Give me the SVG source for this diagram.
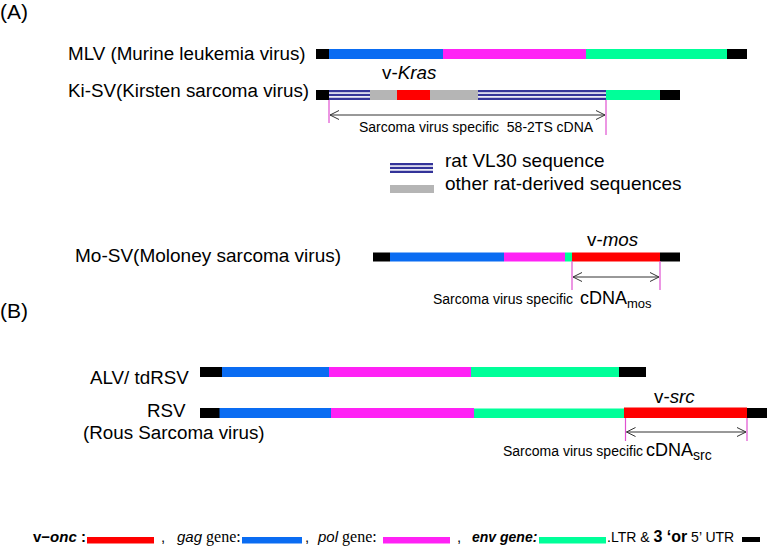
<svg xmlns="http://www.w3.org/2000/svg" width="767" height="546" viewBox="0 0 767 546">
<style>
text{font-family:"Liberation Sans",Arial,sans-serif;fill:#000}
.lbl{font-size:18.8px}
.sm{font-size:14px}
.big{font-size:18px}
.blk{fill:#000}
.gag{fill:#0a6cf2}
.pol{fill:#ff22f5}
.env{fill:#00ff99}
.onc{fill:#ff0000}
.rat{fill:#b5b5b5}
.vl{fill:#333399}
.pink{stroke:#e050d0;stroke-width:1.2;fill:none}
.dim{stroke:#333;stroke-width:1;fill:none}
.gn{font-family:"Liberation Serif",serif;font-size:16px}
</style>
<defs>
<marker id="ah" viewBox="-11 -6 12 12" markerWidth="12" markerHeight="12" refX="0" refY="0" orient="auto-start-reverse" markerUnits="userSpaceOnUse">
<path d="M-9,-4.5 L0,0 L-9,4.5" fill="none" stroke="#333" stroke-width="1"/>
</marker>
</defs>

<g id="labels">
<text x="0" y="19" style="font-size:21px">(A)</text>
<text x="0" y="318" style="font-size:21px">(B)</text>
</g>

<g id="mlv">
<text class="lbl" x="68" y="60">MLV (Murine leukemia virus)</text>
<rect class="blk" x="316" y="49" width="13" height="10"/>
<rect class="gag" x="329" y="49" width="114" height="10"/>
<rect class="pol" x="443" y="49" width="143" height="10"/>
<rect class="env" x="586" y="49" width="141" height="10"/>
<rect class="blk" x="727" y="49" width="20" height="10"/>
</g>

<g id="kisv">
<text class="lbl" x="68" y="97">Ki-SV(Kirsten sarcoma virus)</text>
<text class="lbl" x="382" y="79">v-<tspan font-style="italic">Kras</tspan></text>
<rect class="blk" x="316" y="90" width="13" height="10"/>
<rect class="vl" x="329" y="90" width="41" height="2.3"/>
<rect class="vl" x="329" y="93.8" width="41" height="2.3"/>
<rect class="vl" x="329" y="97.7" width="41" height="2.3"/>
<rect class="rat" x="370" y="90" width="27" height="10"/>
<rect class="onc" x="397" y="90" width="33" height="10"/>
<rect class="rat" x="430" y="90" width="48" height="10"/>
<rect class="vl" x="478" y="90" width="128" height="2.3"/>
<rect class="vl" x="478" y="93.8" width="128" height="2.3"/>
<rect class="vl" x="478" y="97.7" width="128" height="2.3"/>
<rect class="env" x="606" y="90" width="54" height="10"/>
<rect class="blk" x="660" y="90" width="20" height="10"/>
<text class="sm" x="359" y="132" xml:space="preserve" style="white-space:pre">Sarcoma virus specific  58-2TS cDNA</text>
</g>

<g id="rat-legend">
<rect class="vl" x="390" y="163" width="43" height="2.3"/>
<rect class="vl" x="390" y="166.8" width="43" height="2.3"/>
<rect class="vl" x="390" y="170.7" width="43" height="2.3"/>
<rect class="rat" x="390" y="185" width="44" height="8"/>
<text class="lbl" x="445" y="167" style="font-size:19px">rat VL30 sequence</text>
<text class="lbl" x="445" y="190" style="font-size:19px">other rat-derived sequences</text>
</g>

<g id="mosv">
<text class="lbl" x="75" y="262" style="font-size:19px">Mo-SV(Moloney sarcoma virus)</text>
<text class="lbl" x="587" y="246">v-<tspan font-style="italic">mos</tspan></text>
<rect class="blk" x="373" y="252.5" width="17" height="9"/>
<rect class="gag" x="390" y="252.5" width="114" height="9"/>
<rect class="pol" x="504" y="252.5" width="61" height="9"/>
<rect class="env" x="565" y="252.5" width="7" height="9"/>
<rect class="onc" x="572" y="252.5" width="88" height="9"/>
<rect class="blk" x="660" y="252.5" width="20" height="9"/>
<text class="sm" x="433" y="304">Sarcoma virus specific</text>
<text class="big" x="580" y="304">cDNA<tspan style="font-size:13px" dy="4">mos</tspan></text>
</g>

<g id="alv">
<text class="lbl" x="90" y="384">ALV/ tdRSV</text>
<rect class="blk" x="200" y="367" width="22" height="10"/>
<rect class="gag" x="222" y="367" width="107" height="10"/>
<rect class="pol" x="329" y="367" width="142" height="10"/>
<rect class="env" x="471" y="367" width="148" height="10"/>
<rect class="blk" x="619" y="367" width="27" height="10"/>
</g>

<g id="rsv">
<text class="lbl" x="147" y="417">RSV</text>
<text class="lbl" x="83" y="439">(Rous Sarcoma virus)</text>
<text class="lbl" x="654" y="403">v-<tspan font-style="italic">src</tspan></text>
<rect class="blk" x="200" y="408" width="20" height="10"/>
<rect class="gag" x="219.5" y="408" width="111.5" height="10"/>
<rect class="pol" x="331" y="408" width="143" height="10"/>
<rect class="env" x="474" y="408.5" width="150" height="9.5"/>
<rect class="onc" x="624" y="407.5" width="123" height="10.5"/>
<rect class="blk" x="747" y="408" width="20" height="10"/>
<text class="sm" x="503" y="456">Sarcoma virus specific</text>
<text class="big" x="646" y="456">cDNA<tspan style="font-size:14px" dy="4">src</tspan></text>
</g>

<g id="connectors">
<line class="pink" x1="329" y1="100" x2="329" y2="123"/>
<line class="pink" x1="606" y1="100" x2="606" y2="135"/>
<line class="dim" x1="330" y1="115" x2="605" y2="115" marker-start="url(#ah)" marker-end="url(#ah)"/>
<line class="pink" x1="572" y1="261" x2="572" y2="290"/>
<line class="pink" x1="660" y1="261" x2="660" y2="290"/>
<line class="dim" x1="573" y1="277" x2="659" y2="277" marker-start="url(#ah)" marker-end="url(#ah)"/>
<line class="pink" x1="625.5" y1="418" x2="625.5" y2="441"/>
<line class="pink" x1="747" y1="418" x2="747" y2="441"/>
<line class="dim" x1="626.5" y1="432" x2="746" y2="432" marker-start="url(#ah)" marker-end="url(#ah)"/>
</g>

<g id="legend">
<text x="33" y="542" style="font-size:15px;font-weight:bold">v−<tspan font-style="italic">onc</tspan> :</text>
<rect class="onc" x="87" y="537" width="67" height="6.5"/>
<text x="161" y="542" style="font-size:15px">,</text>
<text x="177" y="542" style="font-size:15px"><tspan font-style="italic">gag</tspan><tspan class="gn"> gene:</tspan></text>
<rect class="gag" x="242" y="537" width="60" height="6.5"/>
<text x="305" y="542" style="font-size:15px">,</text>
<text x="318" y="542" style="font-size:15px"><tspan font-style="italic">pol</tspan><tspan class="gn"> gene:</tspan></text>
<rect class="pol" x="383" y="537" width="67" height="6.5"/>
<text x="457" y="542" style="font-size:15px">,</text>
<text x="472" y="542" style="font-size:14px;font-weight:bold;font-style:italic">env gene:</text>
<rect class="env" x="539" y="537" width="67" height="6.5"/>
<text x="607" y="542" style="font-size:14px">.LTR &amp; <tspan style="font-size:16px;font-weight:bold">3 ‘or</tspan> 5’ UTR</text>
<rect class="blk" x="742" y="537" width="18" height="5"/>
</g>
</svg>
